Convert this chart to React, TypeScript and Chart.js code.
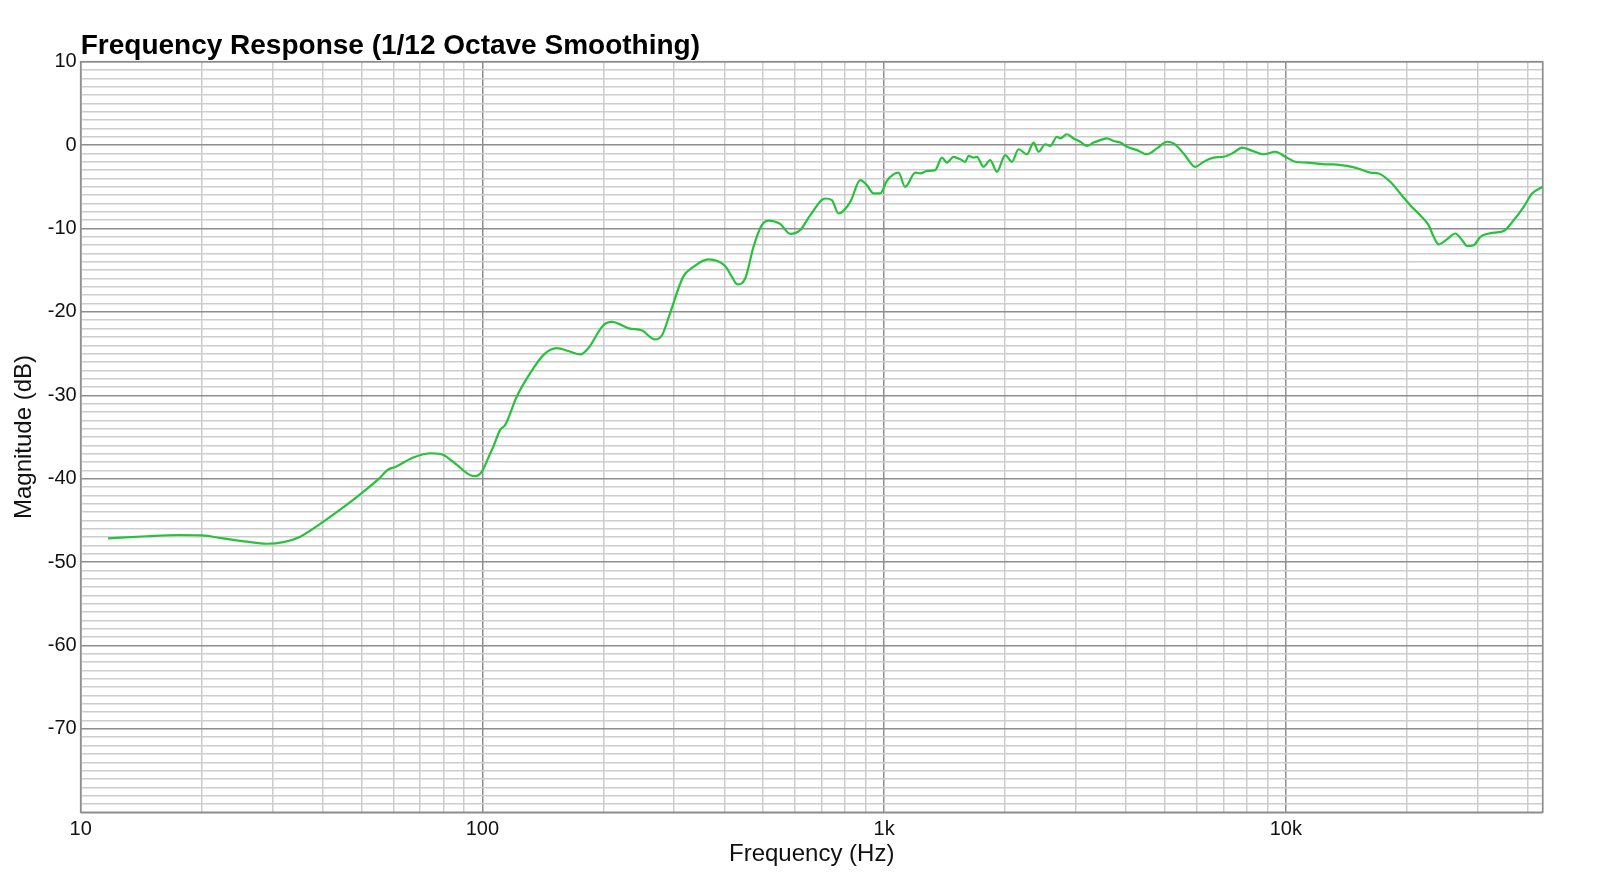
import React, { useEffect, useRef } from "react";
import { Chart, registerables } from "chart.js";

Chart.register(...registerables);

const TITLE = "Frequency Response (1/12 Octave Smoothing)";
const X_TITLE = "Frequency (Hz)";
const Y_TITLE = "Magnitude (dB)";

const X_MIN = 10;
const X_MAX = 43600;
const Y_MIN = -80;
const Y_MAX = 10;

const X_LABELED = [10, 100, 1000, 10000];
const X_LABEL_TEXT = ["10", "100", "1k", "10k"];
const X_MULTIPLIERS = [1, 2, 3, 4, 5, 6, 7, 8, 9];
const X_DECADES = [10, 100, 1000, 10000];

const FREQ_HZ = [
  11.7, 14.6, 17.5, 20, 22.6, 25.9, 29, 32, 35.2, 40.2, 45.9, 50.6, 55.1, 58.3, 60.7,
  67.3, 74.8, 80, 86.4, 92.2, 95.9, 99.7, 104.5, 106.4, 110.7, 114, 121.8, 131.5, 142,
  153, 165, 175, 183.5, 200, 210, 233, 249, 269, 280, 293, 316, 335, 365, 402, 418, 431,
  451, 473, 496, 516, 551, 584, 618, 655, 713, 741, 770, 824, 872, 906, 941, 978, 1016,
  1055, 1086, 1128, 1196, 1230, 1278, 1340, 1393, 1434, 1489, 1547, 1592, 1623, 1670,
  1702, 1768, 1837, 1909, 2002, 2080, 2161, 2268, 2355, 2424, 2518, 2592, 2694, 2745,
  2851, 2962, 3078, 3198, 3322, 3452, 3587, 3727, 3873, 4023, 4262, 4513, 4778, 5061,
  5254, 5566, 5953, 6244, 6612, 7002, 7413, 7781, 8159, 8806, 9416, 9973, 10560, 11290,
  12660, 13160, 14200, 15330, 16230, 17020, 18200, 19270, 20400, 21600, 22670, 23340,
  24030, 25180, 26420, 27470, 28270, 29360, 30500, 32920, 34860, 36930, 39100, 41020,
  43600,
];

const MAGNITUDE_DB = [
  -47.15, -46.9, -46.75, -46.8, -47.15, -47.55, -47.8, -47.6, -46.95, -45.15, -43.15,
  -41.55, -40.05, -38.9, -38.6, -37.45, -36.95, -37.15, -38.35, -39.45, -39.7, -39.15,
  -37.0, -36.2, -34.15, -33.55, -30.15, -27.35, -25.15, -24.35, -24.75, -25.1, -24.35,
  -21.6, -21.2, -22.0, -22.2, -23.3, -22.8, -20.2, -15.8, -14.6, -13.7, -14.5, -15.8,
  -16.7, -16.0, -12.2, -9.6, -9.05, -9.45, -10.65, -10.2, -8.4, -6.4, -6.6, -8.2, -6.8,
  -4.2, -4.8, -5.8, -5.8, -4.3, -3.5, -3.3, -5.0, -3.3, -3.4, -3.1, -3.0, -1.5, -2.1,
  -1.4, -1.7, -2.0, -1.3, -1.5, -1.4, -2.6, -1.8, -3.2, -1.2, -2.0, -0.5, -1.1, 0.3,
  -0.8, 0.1, -0.1, 1.0, 0.8, 1.3, 0.8, 0.4, -0.1, 0.3, 0.6, 0.8, 0.5, 0.3, -0.2, -0.6,
  -1.1, -0.4, 0.4, 0.2, -1.0, -2.6, -2.0, -1.5, -1.4, -0.9, -0.3, -0.6, -1.1, -0.8,
  -1.4, -2.0, -2.1, -2.3, -2.3, -2.5, -2.9, -3.3, -3.4, -4.4, -5.8, -7.2, -8.4, -9.6,
  -11.0, -11.9, -11.3, -10.6, -11.4, -12.1, -12.0, -11.0, -10.5, -10.3, -9.0, -7.4,
  -5.8, -5.0,
];

const FONT = "'Liberation Sans', Arial, Helvetica, sans-serif";
const LINE_COLOR = "#27c23b";
const MINOR_GRID = "#cdcdcd";
const MAJOR_GRID = "#8e8e8e";

const PLOT_LEFT = 80.7;
const PLOT_TOP = 61.7;
const PLOT_RIGHT_PAD = 1600 - 1542.7;
const X_AXIS_HEIGHT = 881 - 812.3;

function buildXTicks(): number[] {
  const vals: number[] = [];
  for (const d of X_DECADES) {
    for (const m of X_MULTIPLIERS) {
      const v = d * m;
      if (v >= X_MIN && v <= X_MAX) vals.push(v);
    }
  }
  if (vals[vals.length - 1] !== X_MAX) vals.push(X_MAX);
  return vals;
}

function buildYTicks(): number[] {
  const vals: number[] = [];
  for (let v = Y_MIN; v <= Y_MAX; v += 1) vals.push(v);
  return vals;
}

export default function App() {
  const ref = useRef<HTMLCanvasElement | null>(null);

  useEffect(() => {
    if (!ref.current) return;
    const points = FREQ_HZ.map((f, i) => ({ x: f, y: MAGNITUDE_DB[i] }));

    const framePlugin = {
      id: "frameAndTitle",
      beforeDatasetsDraw(chart: any) {
        const { ctx, chartArea } = chart;
        ctx.save();
        ctx.strokeStyle = MAJOR_GRID;
        ctx.lineWidth = 1.6;
        ctx.strokeRect(chartArea.left, chartArea.top, chartArea.right - chartArea.left, chartArea.bottom - chartArea.top);
        ctx.restore();
      },
      afterDraw(chart: any) {
        const { ctx, chartArea } = chart;
        ctx.save();
        ctx.fillStyle = "#000";
        ctx.font = `bold 28px ${FONT}`;
        ctx.textAlign = "left";
        ctx.textBaseline = "alphabetic";
        ctx.fillText(TITLE, chartArea.left, 53.5);
        ctx.restore();
      },
    };

    const chart = new Chart(ref.current, {
      type: "line",
      data: {
        datasets: [
          {
            data: points,
            borderColor: LINE_COLOR,
            borderWidth: 2.2,
            pointRadius: 0,
            fill: false,
            cubicInterpolationMode: "monotone",
          },
        ],
      },
      options: {
        animation: false,
        responsive: false,
        devicePixelRatio: 1,
        layout: { padding: { top: PLOT_TOP, right: PLOT_RIGHT_PAD, left: 0, bottom: 0 } },
        plugins: { legend: { display: false }, tooltip: { enabled: false }, title: { display: false } },
        scales: {
          x: {
            type: "logarithmic",
            min: X_MIN,
            max: X_MAX,
            afterBuildTicks: (scale: any) => {
              scale.ticks = buildXTicks().map((v) => ({ value: v }));
            },
            afterFit: (scale: any) => {
              scale.height = X_AXIS_HEIGHT;
            },
            border: { display: false },
            grid: {
              drawTicks: false,
              lineWidth: 1.5,
              color: (c: any) => {
                const v = c.tick ? c.tick.value : 0;
                return X_LABELED.includes(v) ? MAJOR_GRID : MINOR_GRID;
              },
            },
            ticks: {
              autoSkip: false,
              maxRotation: 0,
              minRotation: 0,
              padding: 5,
              color: "#111",
              font: { family: FONT, size: 20 },
              callback: (value: any) => {
                const idx = X_LABELED.indexOf(Number(value));
                return idx >= 0 ? X_LABEL_TEXT[idx] : "";
              },
            },
            title: {
              display: true,
              text: X_TITLE,
              color: "#111",
              font: { family: FONT, size: 24 },
              padding: 12,
            },
          },
          y: {
            type: "linear",
            min: Y_MIN,
            max: Y_MAX,
            afterBuildTicks: (scale: any) => {
              scale.ticks = buildYTicks().map((v) => ({ value: v }));
            },
            afterFit: (scale: any) => {
              scale.width = PLOT_LEFT;
            },
            border: { display: false },
            grid: {
              drawTicks: false,
              lineWidth: 1.5,
              color: (c: any) => {
                const v = c.tick ? c.tick.value : 0;
                return v % 10 === 0 ? MAJOR_GRID : MINOR_GRID;
              },
            },
            ticks: {
              autoSkip: false,
              padding: 4,
              color: "#111",
              font: { family: FONT, size: 20 },
              callback: (value: any) => {
                const v = Number(value);
                return v % 10 === 0 && v > Y_MIN ? String(v) : "";
              },
            },
            title: {
              display: true,
              text: Y_TITLE,
              color: "#111",
              font: { family: FONT, size: 24 },
              padding: 10,
            },
          },
        },
      },
      plugins: [framePlugin],
    });

    return () => chart.destroy();
  }, []);

  return (
    <div style={{ position: "fixed", left: 0, top: 0, width: 1600, height: 881, background: "#fff" }}>
      <canvas ref={ref} width={1600} height={881} style={{ width: 1600, height: 881, display: "block" }} />
    </div>
  );
}
